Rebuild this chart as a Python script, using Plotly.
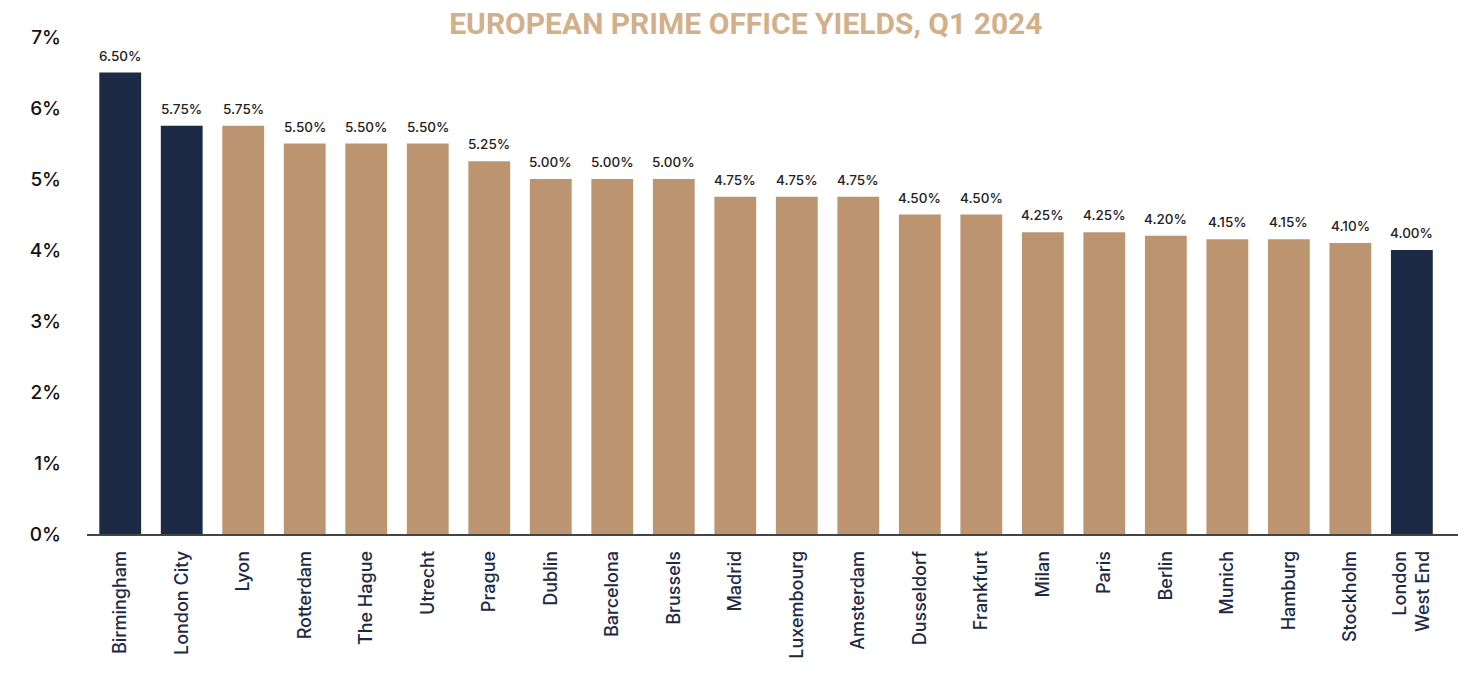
import plotly.graph_objects as go

cities = ["Birmingham", "London City", "Lyon", "Rotterdam", "The Hague", "Utrecht",
          "Prague", "Dublin", "Barcelona", "Brussels", "Madrid", "Luxembourg",
          "Amsterdam", "Dusseldorf", "Frankfurt", "Milan", "Paris", "Berlin",
          "Munich", "Hamburg", "Stockholm", "London<br>West End"]
yields = [6.50, 5.75, 5.75, 5.50, 5.50, 5.50, 5.25, 5.00, 5.00, 5.00, 4.75, 4.75,
          4.75, 4.50, 4.50, 4.25, 4.25, 4.20, 4.15, 4.15, 4.10, 4.00]
uk_cities = {"Birmingham", "London City", "London<br>West End"}

NAVY = "#1C2A45"
TAN = "#BC9470"
bar_colors = [NAVY if c in uk_cities else TAN for c in cities]
xs = list(range(len(cities)))
labels = [f"{v:.2f}%" for v in yields]

fig = go.Figure(go.Bar(
    x=xs, y=yields,
    marker=dict(color=bar_colors, line=dict(width=0)),
    hoverinfo="skip",
))

# value labels above each bar
for x, v, t in zip(xs, yields, labels):
    fig.add_annotation(
        x=x, y=v, text=t, showarrow=False, yanchor="bottom", yshift=7,
        font=dict(family="Inter, Lato, sans-serif", size=13.5, color="#222222",
                  weight=500),
    )

fig.update_layout(
    width=1477, height=686,
    margin=dict(l=87, r=19, t=37, b=152),
    paper_bgcolor="white", plot_bgcolor="white",
    bargap=0.32,
    showlegend=False,
    title=dict(text="<b>EUROPEAN PRIME OFFICE YIELDS, Q1 2024</b>",
               x=0.505, xanchor="center", y=0.966, yanchor="middle",
               font=dict(family="Roboto, sans-serif", size=30, color="#D2B08A")),
    xaxis=dict(
        tickmode="array", tickvals=xs, ticktext=cities,
        tickangle=-90, range=[-0.54, 21.75],
        tickfont=dict(family="Inter, Lato, sans-serif", size=18, color=NAVY,
                      weight=500),
        showline=True, linecolor="#444444", linewidth=1.5,
        showgrid=False, ticks="", ticklabelstandoff=8,
    ),
    yaxis=dict(
        range=[0, 7], tickvals=list(range(8)),
        ticktext=[f"{i}%" for i in range(8)],
        tickfont=dict(family="Inter, Lato, sans-serif", size=19, color="#111111",
                      weight=500),
        showgrid=False, zeroline=False, showline=False, ticks="",
        ticklabelstandoff=25,
    ),
)

fig.write_html("out.html")
